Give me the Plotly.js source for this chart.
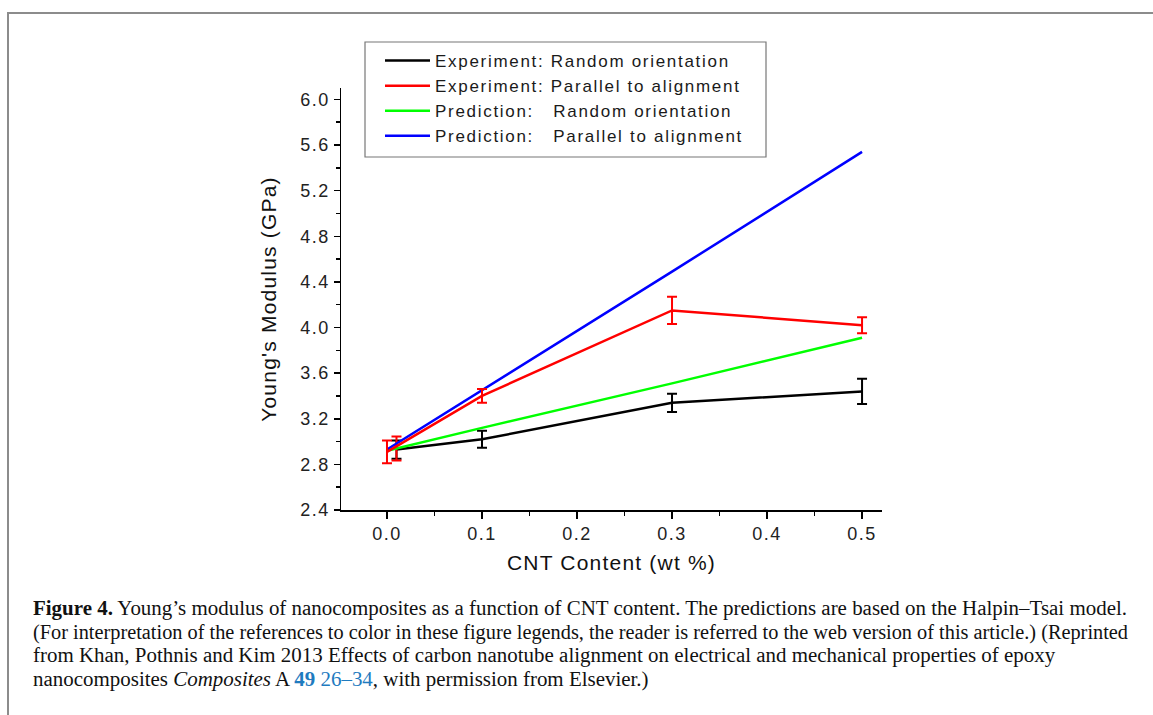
<!DOCTYPE html>
<html>
<head>
<meta charset="utf-8">
<script src="https://cdn.plot.ly/plotly-3.0.1.min.js"></script>
<style>
  html, body { margin: 0; padding: 0; background: #fff; width: 1153px; height: 715px; overflow: hidden; }
  #frame { position: absolute; left: 7px; top: 12px; width: 1160px; height: 720px;
           border-top: 2px solid #8c8c8c; border-left: 2px solid #8c8c8c; }
  #chart { position: absolute; left: 0; top: 0; width: 1153px; height: 715px; }
  .cap { position: absolute; left: 33px; white-space: nowrap; font-family: "Liberation Serif", "DejaVu Serif", serif;
         font-size: 20px; color: #111; transform-origin: 0 50%; line-height: 22px; }
  .cap b { font-weight: bold; }
  .blue { color: #1f7bbf; }
  #chart .xtick text, #chart .ytick text { letter-spacing: 1.5px; }
  #chart .g-xtitle text, #chart .g-ytitle text { letter-spacing: 1.2px; }
  #chart .legendtext { letter-spacing: 1.7px; }
  #chart .legend .scrollbox, #chart .legend { clip-path: none !important; }
</style>
</head>
<body>
<div id="frame"></div>
<div id="chart"></div>
<div class="cap" id="c1" style="top:597px"><b>Figure 4.</b> Young’s modulus of nanocomposites as a function of CNT content. The predictions are based on the Halpin–Tsai model.</div>
<div class="cap" id="c2" style="top:621px">(For interpretation of the references to color in these figure legends, the reader is referred to the web version of this article.) (Reprinted</div>
<div class="cap" id="c3" style="top:644px">from Khan, Pothnis and Kim 2013 Effects of carbon nanotube alignment on electrical and mechanical properties of epoxy</div>
<div class="cap" id="c4" style="top:668px">nanocomposites <i>Composites</i> A <b class="blue">49</b> <span class="blue">26–34</span>, with permission from Elsevier.)</div>
<script>
// CNT content (wt %)
const cnt = [0, 0.1, 0.3, 0.5];
const cntExpRandom = [0.01, 0.1, 0.3, 0.5];

// Young's modulus (GPa)
const expRandom = [2.93, 3.02, 3.34, 3.44];
const expRandomErr = [0.08, 0.075, 0.08, 0.11];
const expParallel = [2.91, 3.40, 4.15, 4.02];
const expParallelErr = [0.10, 0.06, 0.12, 0.07];
const predRandom = [2.92, 3.12, 3.51, 3.91];
const predParallel = [2.93, 3.45, 4.49, 5.54];

// second red error bar drawn at the first point
const extraParallelX = [0.01];
const extraParallelY = [2.94];
const extraParallelErr = [0.105];

const legendNames = [
  'Experiment: Random orientation',
  'Experiment: Parallel to alignment',
  'Prediction:\u00a0\u00a0 Random orientation',
  'Prediction:\u00a0\u00a0 Parallel to alignment'
];

const yTicks = [2.4, 2.8, 3.2, 3.6, 4.0, 4.4, 4.8, 5.2, 5.6, 6.0];
const xTicks = [0, 0.1, 0.2, 0.3, 0.4, 0.5];

const errStyle = (arr, color) => ({ type: 'data', array: arr, visible: true, color: color, thickness: 2, width: 5 });

const traces = [
  { x: cntExpRandom, y: expRandom, name: legendNames[0], mode: 'lines', legendrank: 1,
    line: { color: '#000000', width: 2.5 }, error_y: errStyle(expRandomErr, '#000000') },
  { x: extraParallelX, y: extraParallelY, mode: 'lines', showlegend: false, hoverinfo: 'skip',
    line: { color: '#ff0000', width: 2.5 }, error_y: errStyle(extraParallelErr, '#ff0000') },
  { x: cnt, y: predRandom, name: legendNames[2], mode: 'lines', legendrank: 3,
    line: { color: '#00ff00', width: 2.5 } },
  { x: cnt, y: predParallel, name: legendNames[3], mode: 'lines', legendrank: 4,
    line: { color: '#0000ff', width: 2.5 } },
  { x: cnt, y: expParallel, name: legendNames[1], mode: 'lines', legendrank: 2,
    line: { color: '#ff0000', width: 2.5 }, error_y: errStyle(expParallelErr, '#ff0000') }
];

const sans = 'Liberation Sans, Arial, sans-serif';
const axisFont = { family: sans, size: 18, color: '#222' };

// plot-area pixel helpers for the legend frame (plot area: x 341..882, y 88..510)
const px = v => (v - 341) / 541;
const py = v => (510 - v) / 422;

const layout = {
  width: 1153, height: 715,
  paper_bgcolor: 'rgba(0,0,0,0)', plot_bgcolor: 'rgba(0,0,0,0)',
  margin: { l: 341, r: 271, t: 88, b: 205 },
  showlegend: true,
  legend: {
    x: px(380), y: py(43), xanchor: 'left', yanchor: 'top',
    bgcolor: 'rgba(0,0,0,0)', borderwidth: 0,
    font: { family: sans, size: 17, color: '#1a1a1a' },
    traceorder: 'normal', tracegroupgap: 0, itemwidth: 45
  },
  shapes: [{
    type: 'rect', xref: 'paper', yref: 'paper',
    x0: px(365), x1: px(766), y0: py(157), y1: py(42),
    line: { color: '#777', width: 1.2 }, fillcolor: '#ffffff', layer: 'above'
  }],
  xaxis: {
    range: [-0.0484, 0.521], showgrid: false, zeroline: false,
    showline: true, linecolor: '#000', linewidth: 1.5,
    ticks: 'outside', ticklen: 7, tickwidth: 1.5, tickcolor: '#000',
    tickvals: xTicks, ticktext: xTicks.map(v => v.toFixed(1)),
    tickfont: axisFont,
    minor: { ticks: 'outside', ticklen: 4, tickwidth: 1.5, tickcolor: '#000', dtick: 0.05, tick0: 0, showgrid: false },
    title: { text: 'CNT Content (wt %)', font: { family: sans, size: 21, color: '#111' }, standoff: 12 }
  },
  yaxis: {
    range: [2.4, 6.1], showgrid: false, zeroline: false,
    showline: true, linecolor: '#000', linewidth: 1.5,
    ticks: 'outside', ticklen: 6, tickwidth: 1.5, tickcolor: '#000',
    tickvals: yTicks, ticktext: yTicks.map(v => v.toFixed(1)),
    tickfont: axisFont,
    minor: { ticks: 'outside', ticklen: 4, tickwidth: 1.5, tickcolor: '#000', dtick: 0.2, tick0: 2.4, showgrid: false },
    title: { text: "Young's Modulus (GPa)", font: { family: sans, size: 21, color: '#111' }, standoff: 22 }
  }
};

Plotly.newPlot('chart', traces, layout, { displayModeBar: false, staticPlot: true });

// fit caption lines: lines 1 and 2 to the reference width, lines 3 and 4 share line 1's scale
(function () {
  const w1 = document.getElementById('c1').getBoundingClientRect().width;
  const s1 = 1094 / w1;
  const c2 = document.getElementById('c2');
  const s2 = 1095 / c2.getBoundingClientRect().width;
  document.getElementById('c1').style.transform = 'scaleX(' + s1 + ')';
  c2.style.transform = 'scaleX(' + s2 + ')';
  document.getElementById('c3').style.transform = 'scaleX(' + s1 + ')';
  document.getElementById('c4').style.transform = 'scaleX(' + s1 + ')';
})();
</script>
</body>
</html>
